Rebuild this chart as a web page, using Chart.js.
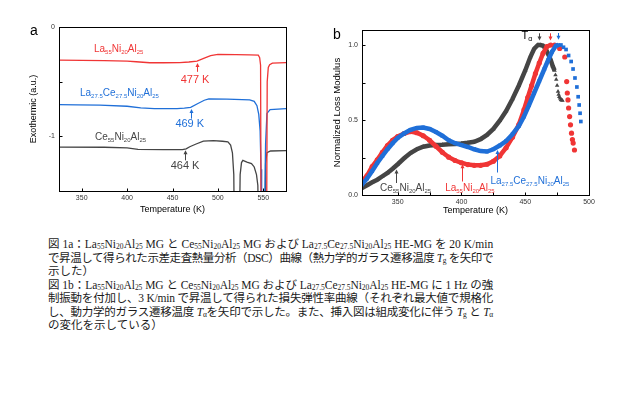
<!DOCTYPE html>
<html lang="ja">
<head>
<meta charset="UTF-8">
<title>Fig. 1 DSC / DMA</title>
<script src="https://cdn.jsdelivr.net/npm/chart.js"></script>
<style>
  body { margin:0; width:636px; height:396px; background:#fff; position:relative; overflow:hidden;
         font-family:"Liberation Sans", Arial, sans-serif; }
  canvas { position:absolute; top:0; }
  #chartA { left:0; }
  #chartB { left:318px; }
  .tag { position:absolute; font-size:14px; line-height:14px; color:#000; }
  .frame { position:absolute; border:1px solid #000; box-sizing:border-box; pointer-events:none; }
  #caption { position:absolute; left:48px; top:238px; width:445px;
             font-family:"Liberation Serif","Noto Sans CJK JP",serif; font-size:11.5px; line-height:13.5px; color:#1a1a1a; }
  #caption div { white-space:nowrap; }
  #caption span { display:inline-block; }
  #caption sub { font-size:7.5px; vertical-align:-1px; line-height:0; }
</style>
</head>
<body>

<canvas id="chartA" width="318" height="225"></canvas>
<canvas id="chartB" width="318" height="225"></canvas>
<div class="tag" style="left:30px; top:23px;">a</div>
<div class="tag" style="left:333px; top:27px;">b</div>

<div id="caption">
  <div class="full"><span>図 1a：La<sub>55</sub>Ni<sub>20</sub>Al<sub>25</sub> MG と Ce<sub>55</sub>Ni<sub>20</sub>Al<sub>25</sub> MG および La<sub>27.5</sub>Ce<sub>27.5</sub>Ni<sub>20</sub>Al<sub>25</sub> HE-MG を 20 K/min</span></div>
  <div class="full"><span>で昇温して得られた示差走査熱量分析（DSC）曲線（熱力学的ガラス遷移温度 <i>T</i><sub>g</sub> を矢印で</span></div>
  <div><span>示した）</span></div>
  <div class="full"><span>図 1b：La<sub>55</sub>Ni<sub>20</sub>Al<sub>25</sub> MG と Ce<sub>55</sub>Ni<sub>20</sub>Al<sub>25</sub> MG および La<sub>27.5</sub>Ce<sub>27.5</sub>Ni<sub>20</sub>Al<sub>25</sub> HE-MG に 1 Hz の強</span></div>
  <div class="full"><span>制振動を付加し、3 K/min で昇温して得られた損失弾性率曲線（それぞれ最大値で規格化</span></div>
  <div class="full"><span>し、動力学的ガラス遷移温度 <i>T</i><sub>α</sub>を矢印で示した。また、挿入図は組成変化に伴う <i>T</i><sub>g</sub> と <i>T</i><sub>α</sub></span></div>
  <div><span>の変化を示している）</span></div>
</div>

<script>
// ---- 図1a DSC曲線 (温度 K / 発熱 a.u.) ----
const dscTempLa = [325,350,375,400,410,425,440,458,468,477,485,492,500,520,535,544.5,546,547,547.6,553.6,554.3,555.5,557,560,575];
const dscLa     = [-0.303,-0.305,-0.308,-0.312,-0.318,-0.327,-0.327,-0.325,-0.320,-0.312,-0.285,-0.262,-0.250,-0.253,-0.255,-0.258,-0.28,-0.35,-2,-2,-0.5,-0.37,-0.345,-0.33,-0.325];

const dscTempLaCe = [325,345,370,400,415,430,455,463,470,478,485,490,510,535,540,543,545,546.5,547.5,548.2,550.8,552.5,554,557.5,575];
const dscLaCe     = [-0.71,-0.712,-0.715,-0.725,-0.74,-0.746,-0.746,-0.742,-0.735,-0.70,-0.67,-0.657,-0.66,-0.667,-0.68,-0.72,-0.80,-0.95,-1.3,-2,-2,-1.07,-0.79,-0.755,-0.746];

const dscTempCe = [325,375,400,412,440,461,465,469,476,484,495,505,511,514,516,517.5,518.3,523.5,524.5,526,527.5,532,537,540,542.5,544,545,552,552.5,554,558,575];
const dscCe     = [-1.098,-1.1,-1.106,-1.12,-1.122,-1.122,-1.115,-1.095,-1.07,-1.043,-1.04,-1.045,-1.05,-1.08,-1.15,-1.35,-2,-2,-1.35,-1.24,-1.22,-1.235,-1.25,-1.28,-1.35,-1.45,-2,-2,-1.25,-1.15,-1.134,-1.13];

const ticksAx = [350,400,450,500,550];
const ticksAy = [0,-0.5,-1];

// ---- 図1b 規格化損失弾性率 ----
const dmaTempLa = [322,326,330,334,338,342,346,350,355,360,365,370,375,380,385,390,395,400,405,410,415,420,425,430,435,440,445,449,452,455,458,461,464,467,470];
const dmaLa     = [0.09,0.13,0.19,0.235,0.285,0.33,0.365,0.39,0.41,0.423,0.415,0.395,0.365,0.325,0.285,0.252,0.23,0.215,0.203,0.198,0.198,0.205,0.225,0.26,0.315,0.385,0.47,0.567,0.65,0.73,0.81,0.88,0.945,0.99,1.0];
const dmaTailTempLa = [473,477,481,482.5,483,483.5,484,484.8,485.5,486.3,487,487.6,488.6];
const dmaTailLa     = [1.0,0.977,0.92,0.756,0.68,0.634,0.58,0.523,0.468,0.412,0.37,0.346,0.3];

const dmaTempLaCe = [322,326,330,334,338,342,346,350,355,360,365,370,375,380,385,390,395,400,405,410,415,420,425,430,435,440,445,449,453,457,461,465,468,471,474,476];
const dmaLaCe     = [0.069,0.11,0.16,0.213,0.26,0.305,0.345,0.38,0.41,0.434,0.447,0.45,0.44,0.42,0.395,0.365,0.345,0.333,0.32,0.305,0.293,0.29,0.305,0.33,0.36,0.405,0.46,0.523,0.6,0.68,0.76,0.84,0.9,0.955,0.995,1.0];
const dmaTailTempLaCe = [478,480,482,484,486,487.5,489,490.5,491.5,492.3,493,493.6];
const dmaTailLaCe     = [1.0,0.985,0.97,0.93,0.89,0.84,0.78,0.72,0.655,0.6,0.545,0.49];

const dmaTempCe = [322,326,330,334,338,342,346,350,355,360,365,370,375,380,385,390,395,400,405,410,415,420,425,430,435,440,445,450,454,457,460,462,464,466,468,470,471.5,473];
const dmaCe     = [0.047,0.065,0.085,0.102,0.125,0.147,0.175,0.205,0.245,0.28,0.305,0.322,0.33,0.333,0.335,0.338,0.34,0.343,0.348,0.355,0.372,0.4,0.44,0.495,0.56,0.64,0.73,0.83,0.92,0.975,1.0,1.0,0.995,0.975,0.94,0.9,0.86,0.83];
const dmaTailTempCe = [473.7,474.3,475,475.7,476.2,476.7,477.3,478,478.6,479.2];
const dmaTailCe     = [0.8,0.77,0.73,0.69,0.67,0.655,0.645,0.636,0.632,0.63];

const ticksBx = [350,375,400,425,450,475,500];
const ticksBy = [0,0.25,0.5,0.75,1.0];

const RED = '#f03535', BLUE = '#1f6fd8', GRAY = '#454545';

const pts = (xs, ys) => xs.map((x, i) => ({x: x, y: ys[i]}));

function drawText(ctx, text, x, y, size, color, formula, align) {
    const parts = formula ? text.match(/[A-Za-z ]+|[\d.α]+/g) : [text];
    const subSize = Math.round(size * 0.62);
    const isSub = p => formula && /^[\d.α]+$/.test(p);
    let w = 0;
    parts.forEach(p => {
        ctx.font = (isSub(p) ? subSize : size) + 'px "Liberation Sans", Arial, sans-serif';
        w += ctx.measureText(p).width;
    });
    let cx = align === 'center' ? x - w / 2 : x;
    ctx.fillStyle = color;
    ctx.textAlign = 'left';
    ctx.textBaseline = 'middle';
    parts.forEach(p => {
        const sub = isSub(p);
        ctx.font = (sub ? subSize : size) + 'px "Liberation Sans", Arial, sans-serif';
        ctx.fillText(p, cx, sub ? y + size * 0.32 : y);
        cx += ctx.measureText(p).width;
    });
}

// 枠線・内向き目盛・ラベル・矢印
const notesPlugin = {
    id: 'notes',
    afterDraw(chart, args, opts) {
        const ctx = chart.ctx;
        const sx = chart.scales.x, sy = chart.scales.y;
        const L = Math.round(sx.left) + 0.5, R = Math.round(sx.right) + 0.5;
        const T = Math.round(sy.top) + 0.5, B = Math.round(sy.bottom) + 0.5;
        ctx.save();
        ctx.strokeStyle = '#000';
        ctx.lineWidth = 1;
        ctx.strokeRect(L, T, R - L, B - T);
        ctx.beginPath();
        sx.ticks.forEach(t => {
            const px = Math.round(sx.getPixelForValue(t.value)) + 0.5;
            ctx.moveTo(px, B);
            ctx.lineTo(px, B - 3);
        });
        sy.ticks.forEach(t => {
            const py = Math.round(sy.getPixelForValue(t.value)) + 0.5;
            ctx.moveTo(L, py);
            ctx.lineTo(L + 3, py);
        });
        ctx.stroke();

        (opts.arrows || []).forEach(ar => {
            const px = Math.round(sx.getPixelForValue(ar.x)) + 0.5;
            const ya = sy.getPixelForValue(ar.from);
            const yb = sy.getPixelForValue(ar.to);
            const d = yb < ya ? 1 : -1;
            ctx.strokeStyle = ar.color;
            ctx.fillStyle = ar.color;
            ctx.beginPath();
            ctx.moveTo(px, ya);
            ctx.lineTo(px, yb + d * 2);
            ctx.stroke();
            ctx.beginPath();
            ctx.moveTo(px, yb);
            ctx.lineTo(px - 2, yb + d * 4);
            ctx.lineTo(px + 2, yb + d * 4);
            ctx.closePath();
            ctx.fill();
        });
        (opts.labels || []).forEach(lb => {
            drawText(ctx, lb.text, sx.getPixelForValue(lb.x), sy.getPixelForValue(lb.y),
                     lb.size || 10, lb.color, lb.formula, lb.align);
        });
        ctx.restore();
    }
};

Chart.register(notesPlugin);

const axisFont = {family: '"Liberation Sans", Arial, sans-serif'};

function axis(extra) {
    return Object.assign({
        type: 'linear',
        grid: {display: false, drawTicks: false},
        border: {display: false}
    }, extra);
}

// 図1a
const chartA = new Chart(document.getElementById('chartA'), {
    type: 'scatter',
    data: {
        datasets: [
            {data: pts(dscTempLa, dscLa), borderColor: RED},
            {data: pts(dscTempLaCe, dscLaCe), borderColor: BLUE},
            {data: pts(dscTempCe, dscCe), borderColor: GRAY}
        ].map(d => Object.assign(d, {showLine: true, pointRadius: 0, borderWidth: 1.3, clip: 0}))
    },
    options: {
        responsive: false,
        animation: false,
        layout: {padding: {left: 28, right: 32, top: 27, bottom: 10}},
        plugins: {
            legend: {display: false},
            tooltip: {enabled: false},
            notes: {
                labels: [
                    {text: 'La55Ni20Al25', x: 363.5, y: -0.205, color: RED, formula: true},
                    {text: 'La27.5Ce27.5Ni20Al25', x: 348.1, y: -0.603, color: BLUE, formula: true},
                    {text: 'Ce55Ni20Al25', x: 364.6, y: -1.006, color: GRAY, formula: true},
                    {text: '477 K', x: 474.8, y: -0.48, color: RED, size: 11, align: 'center'},
                    {text: '469 K', x: 469, y: -0.89, color: BLUE, size: 11, align: 'center'},
                    {text: '464 K', x: 463.8, y: -1.275, color: GRAY, size: 11, align: 'center'}
                ],
                arrows: [
                    {x: 476.5, from: -0.41, to: -0.33, color: RED},
                    {x: 470, from: -0.838, to: -0.75, color: BLUE},
                    {x: 463.8, from: -1.22, to: -1.127, color: GRAY}
                ]
            }
        },
        scales: {
            x: axis({
                min: 325, max: 575,
                afterBuildTicks: s => { s.ticks = ticksAx.map(v => ({value: v})); },
                afterFit: s => { s.height = 24; },
                ticks: {font: Object.assign({size: 7}, axisFont), color: '#333', padding: 3, maxRotation: 0, autoSkip: false},
                title: {display: true, text: 'Temperature (K)', font: Object.assign({size: 9}, axisFont), color: '#000', padding: 0}
            }),
            y: axis({
                min: -1.5, max: 0,
                afterBuildTicks: s => { s.ticks = ticksAy.map(v => ({value: v})); },
                afterFit: s => { s.width = 31; },
                ticks: {font: Object.assign({size: 7}, axisFont), color: '#333', padding: 4, autoSkip: false,
                        callback: v => (v === -0.5 ? '' : String(v))},
                title: {display: true, text: 'Exothermic (a.u.)', font: Object.assign({size: 9}, axisFont), color: '#000', padding: 0}
            })
        }
    }
});

// 図1b
const dense = (xs, ys, color, style) => ({
    data: pts(xs, ys), showLine: true, borderColor: color, borderWidth: 4.5,
    pointStyle: style, pointRadius: 2.6, pointBackgroundColor: color, pointBorderWidth: 0
});
const tail = (xs, ys, color, style) => ({
    data: pts(xs, ys), showLine: false,
    pointStyle: style, pointRadius: 2.6, pointBackgroundColor: color, pointBorderWidth: 0
});

const chartB = new Chart(document.getElementById('chartB'), {
    type: 'scatter',
    data: {
        datasets: [
            dense(dmaTempLaCe, dmaLaCe, BLUE, 'rect'),
            tail(dmaTailTempLaCe, dmaTailLaCe, BLUE, 'rect'),
            dense(dmaTempLa, dmaLa, RED, 'circle'),
            tail(dmaTailTempLa, dmaTailLa, RED, 'circle'),
            dense(dmaTempCe, dmaCe, GRAY, 'triangle'),
            tail(dmaTailTempCe, dmaTailCe, GRAY, 'triangle')
        ]
    },
    options: {
        responsive: false,
        animation: false,
        layout: {padding: {left: 14, right: 47, top: 30, bottom: 9}},
        plugins: {
            legend: {display: false},
            tooltip: {enabled: false},
            notes: {
                labels: [
                    {text: 'Ce55Ni20Al25', x: 336.1, y: 0.047, color: GRAY, formula: true},
                    {text: 'La55Ni20Al25', x: 387.2, y: 0.047, color: RED, formula: true},
                    {text: 'La27.5Ce27.5Ni20Al25', x: 422.7, y: 0.095, color: BLUE, formula: true},
                    {text: 'Tα', x: 447, y: 1.06, color: '#000', size: 11, formula: true}
                ],
                arrows: [
                    {x: 349, from: 0.08, to: 0.17, color: GRAY},
                    {x: 400.3, from: 0.09, to: 0.205, color: RED},
                    {x: 428, from: 0.15, to: 0.30, color: BLUE},
                    {x: 460.7, from: 1.078, to: 1.03, color: GRAY},
                    {x: 469.4, from: 1.078, to: 1.03, color: RED},
                    {x: 475.7, from: 1.08, to: 1.035, color: BLUE}
                ]
            }
        },
        scales: {
            x: axis({
                min: 322, max: 500,
                afterBuildTicks: s => { s.ticks = ticksBx.map(v => ({value: v})); },
                afterFit: s => { s.height = 21; },
                ticks: {font: Object.assign({size: 7}, axisFont), color: '#333', padding: 3, maxRotation: 0, autoSkip: false,
                        callback: v => (v % 50 === 0 ? String(v) : '')},
                title: {display: true, text: 'Temperature (K)', font: Object.assign({size: 9}, axisFont), color: '#000', padding: 0}
            }),
            y: axis({
                min: 0, max: 1.1,
                afterBuildTicks: s => { s.ticks = ticksBy.map(v => ({value: v})); },
                afterFit: s => { s.width = 30; },
                ticks: {font: Object.assign({size: 7}, axisFont), color: '#333', padding: 4, autoSkip: false,
                        callback: v => (v * 2 % 1 === 0 ? v.toFixed(1) : '')},
                title: {display: true, text: 'Normalized Loss Modulus', font: Object.assign({size: 9.5}, axisFont), color: '#000', padding: 0}
            })
        }
    }
});

// 枠線を DOM でも重ねる (描画領域はチャートから取得)
[chartA, chartB].forEach(c => {
    const a = c.chartArea;
    const f = document.createElement('div');
    f.className = 'frame';
    f.style.left = (c.canvas.offsetLeft + Math.round(a.left)) + 'px';
    f.style.top = (c.canvas.offsetTop + Math.round(a.top)) + 'px';
    f.style.width = (Math.round(a.right) - Math.round(a.left) + 1) + 'px';
    f.style.height = (Math.round(a.bottom) - Math.round(a.top) + 1) + 'px';
    document.body.appendChild(f);
});

// キャプションの行を 445px に揃える
document.querySelectorAll('#caption .full').forEach(div => {
    const span = div.querySelector('span');
    const w = span.getBoundingClientRect().width;
    const n = span.textContent.length;
    div.style.letterSpacing = ((445 - w) / n).toFixed(3) + 'px';
});
</script>
</body>
</html>
